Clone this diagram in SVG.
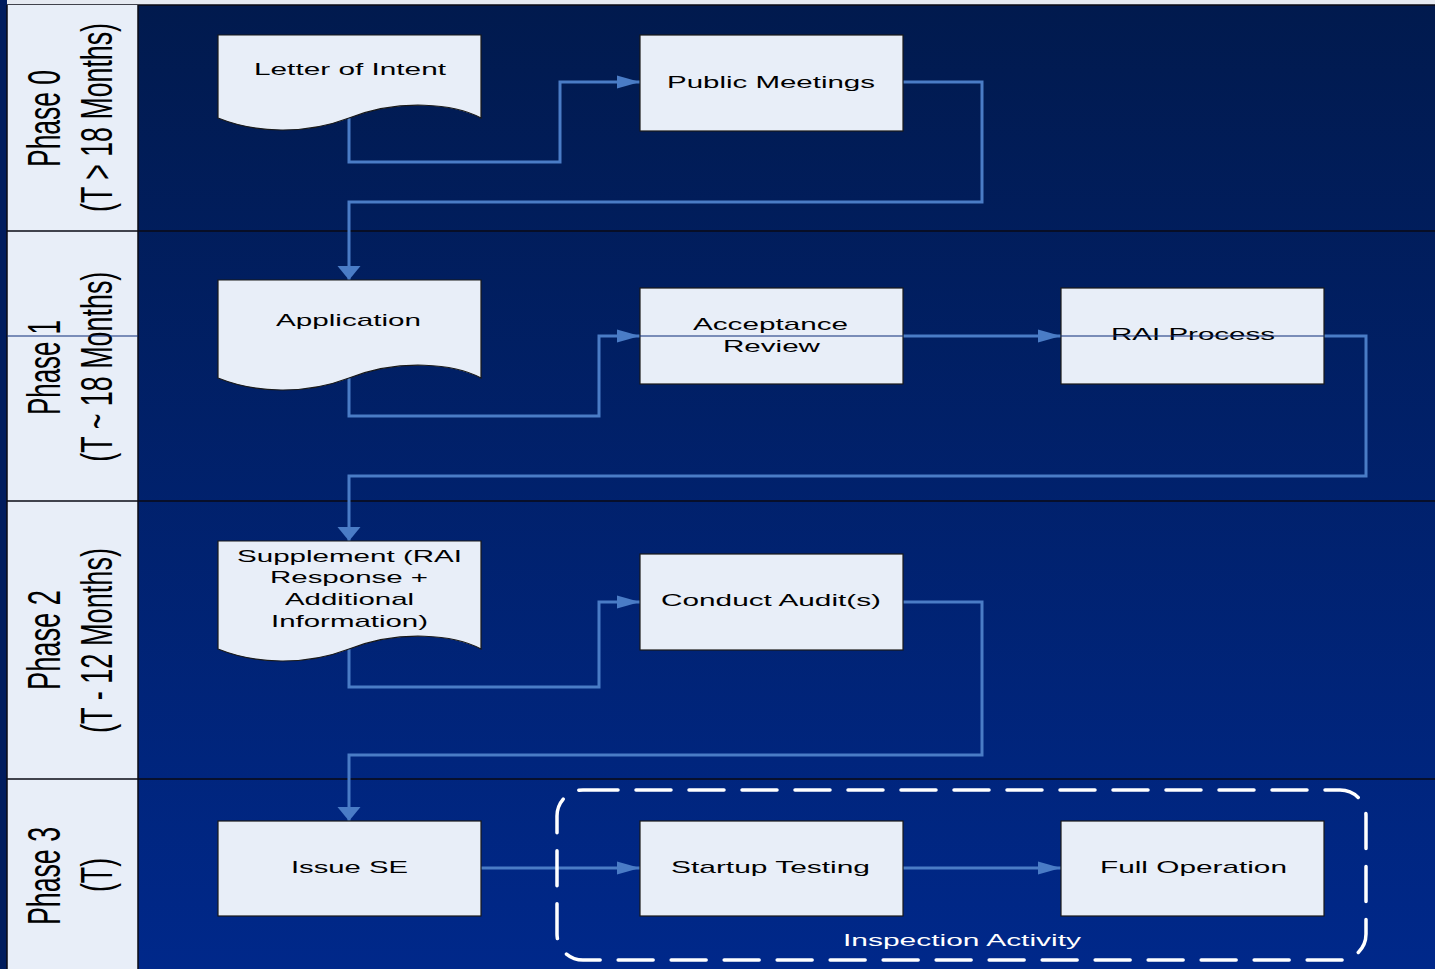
<svg xmlns="http://www.w3.org/2000/svg" width="1435" height="969" viewBox="0 0 1435 969">
<style>
.node{fill:#E8EEF8;stroke:#1a1a1a;stroke-width:1.2}
.t{font-family:"Liberation Sans",Arial,sans-serif;font-size:17px;fill:#000;text-anchor:middle}
.lbl{font-family:"Liberation Sans",Arial,sans-serif;fill:#000;text-anchor:middle}
.conn{fill:none;stroke:#4A7CC6;stroke-width:3}
.div{stroke:#0a0a14;stroke-width:1.5}
</style>
<defs>
<linearGradient id="bg" x1="0" y1="5" x2="0" y2="969" gradientUnits="userSpaceOnUse">
<stop offset="0" stop-color="#011A4E"/>
<stop offset="1" stop-color="#00288A"/>
</linearGradient>
<marker id="ah" markerUnits="userSpaceOnUse" markerWidth="24" markerHeight="14" refX="23" refY="6.5" orient="auto" overflow="visible">
<path d="M0,0 L23,6.5 L0,13 Z" fill="#4A7CC6"/>
</marker>
<marker id="av" markerUnits="userSpaceOnUse" markerWidth="15" markerHeight="24" refX="14" refY="11.5" orient="auto" overflow="visible">
<path d="M0,0 L14,11.5 L0,23 Z" fill="#4A7CC6"/>
</marker>
</defs>

<!-- background -->
<rect x="0" y="0" width="1435" height="969" fill="url(#bg)"/>
<rect x="0" y="0" width="1435" height="5" fill="#E6EAF2"/>
<line x1="0" y1="5" x2="1435" y2="5" class="div"/>
<rect x="0" y="0" width="7" height="969" fill="#001C5E"/>

<!-- lanes -->
<g id="lanes">
<rect x="7" y="5" width="131" height="964" fill="#E8EEF8"/>
<line x1="7" y1="5" x2="7" y2="969" class="div"/>
<line x1="138" y1="5" x2="138" y2="969" class="div"/>
<line x1="7" y1="231" x2="1435" y2="231" class="div"/>
<line x1="7" y1="501" x2="1435" y2="501" class="div"/>
<line x1="7" y1="779" x2="1435" y2="779" class="div"/>
</g>
<g id="lane-phase0">
<text class="lbl" font-size="47" transform="translate(60,118.5) rotate(-90)" textLength="97" lengthAdjust="spacingAndGlyphs">Phase 0</text>
<text class="lbl" font-size="44" transform="translate(112,117.5) rotate(-90)" textLength="189" lengthAdjust="spacingAndGlyphs">(T &gt; 18 Months)</text>
</g>
<g id="lane-phase1">
<text class="lbl" font-size="47" transform="translate(60,367.5) rotate(-90)" textLength="95" lengthAdjust="spacingAndGlyphs">Phase 1</text>
<text class="lbl" font-size="44" transform="translate(112,366.7) rotate(-90)" textLength="190" lengthAdjust="spacingAndGlyphs">(T ~ 18 Months)</text>
</g>
<g id="lane-phase2">
<text class="lbl" font-size="47" transform="translate(60,640) rotate(-90)" textLength="100" lengthAdjust="spacingAndGlyphs">Phase 2</text>
<text class="lbl" font-size="44" transform="translate(112,640.5) rotate(-90)" textLength="185" lengthAdjust="spacingAndGlyphs">(T - 12 Months)</text>
</g>
<g id="lane-phase3">
<text class="lbl" font-size="47" transform="translate(60,876) rotate(-90)" textLength="98" lengthAdjust="spacingAndGlyphs">Phase 3</text>
<text class="lbl" font-size="44" transform="translate(112,875) rotate(-90)" textLength="34" lengthAdjust="spacingAndGlyphs">(T)</text>
</g>

<!-- connectors -->
<g id="connectors">
<path class="conn" d="M349,118 V162 H560 V82 H640" marker-end="url(#ah)"/>
<path class="conn" d="M903,82 H982 V202 H349 V280" marker-end="url(#av)"/>
<path class="conn" d="M349,378 V416 H599 V336 H640" marker-end="url(#ah)"/>
<path class="conn" d="M903,336 H1061" marker-end="url(#ah)"/>
<path class="conn" d="M1324,336 H1366 V476 H349 V541" marker-end="url(#av)"/>
<path class="conn" d="M349,649 V687 H599 V602 H640" marker-end="url(#ah)"/>
<path class="conn" d="M903,602 H982 V755 H349 V821" marker-end="url(#av)"/>
<path class="conn" d="M481,868 H640" marker-end="url(#ah)"/>
<path class="conn" d="M903,868 H1061" marker-end="url(#ah)"/>
</g>

<!-- group boundary -->
<g id="inspection-activity">
<rect x="557" y="790" width="809" height="170" rx="26" ry="26" fill="none" stroke="#FFFFFF" stroke-width="3.5" stroke-dasharray="35,18" stroke-linecap="round"/>
<text class="t" x="962" y="946" fill="#FFFFFF" style="fill:#FFFFFF" textLength="238" lengthAdjust="spacingAndGlyphs">Inspection Activity</text>
</g>

<!-- nodes -->
<g id="letter-of-intent">
<path class="node" d="M218,35 H481 V118 C455,104 400,98 349,118 C305,135 255,133 218,118 Z"/>
<text class="t" x="350" y="75" textLength="192" lengthAdjust="spacingAndGlyphs">Letter of Intent</text>
</g>
<g id="public-meetings">
<rect class="node" x="640" y="35" width="263" height="96"/>
<text class="t" x="771" y="88" textLength="208" lengthAdjust="spacingAndGlyphs">Public Meetings</text>
</g>
<g id="application">
<path class="node" d="M218,280 H481 V378 C455,364 400,358 349,378 C305,395 255,393 218,378 Z"/>
<text class="t" x="348.5" y="326" textLength="145" lengthAdjust="spacingAndGlyphs">Application</text>
</g>
<g id="acceptance-review">
<rect class="node" x="640" y="288" width="263" height="96"/>
<text class="t" x="770.5" y="330" textLength="155" lengthAdjust="spacingAndGlyphs">Acceptance</text>
<text class="t" x="771.5" y="352" textLength="97" lengthAdjust="spacingAndGlyphs">Review</text>
</g>
<g id="rai-process">
<rect class="node" x="1061" y="288" width="263" height="96"/>
<text class="t" x="1193" y="340" textLength="164" lengthAdjust="spacingAndGlyphs">RAI Process</text>
</g>
<g id="supplement">
<path class="node" d="M218,541 H481 V649 C455,635 400,629 349,649 C305,666 255,664 218,649 Z"/>
<text class="t" x="349.5" y="561.5" textLength="225" lengthAdjust="spacingAndGlyphs">Supplement (RAI</text>
<text class="t" x="349" y="583" textLength="158" lengthAdjust="spacingAndGlyphs">Response +</text>
<text class="t" x="349.5" y="605" textLength="129" lengthAdjust="spacingAndGlyphs">Additional</text>
<text class="t" x="349.5" y="626.5" textLength="157" lengthAdjust="spacingAndGlyphs">Information)</text>
</g>
<g id="conduct-audits">
<rect class="node" x="640" y="554" width="263" height="96"/>
<text class="t" x="771" y="606" textLength="220" lengthAdjust="spacingAndGlyphs">Conduct Audit(s)</text>
</g>
<g id="issue-se">
<rect class="node" x="218" y="821" width="263" height="95"/>
<text class="t" x="349.5" y="873" textLength="117" lengthAdjust="spacingAndGlyphs">Issue SE</text>
</g>
<g id="startup-testing">
<rect class="node" x="640" y="821" width="263" height="95"/>
<text class="t" x="770.5" y="873" textLength="199" lengthAdjust="spacingAndGlyphs">Startup Testing</text>
</g>
<g id="full-operation">
<rect class="node" x="1061" y="821" width="263" height="95"/>
<text class="t" x="1193.5" y="873" textLength="187" lengthAdjust="spacingAndGlyphs">Full Operation</text>
</g>

<!-- thin horizontal rule crossing phase 1 -->
<line x1="7" y1="336" x2="138" y2="336" stroke="#0B2A78" stroke-width="1.2"/>
<line x1="640" y1="336" x2="903" y2="336" stroke="#0B2A78" stroke-width="1.2"/>
<line x1="1061" y1="336" x2="1324" y2="336" stroke="#0B2A78" stroke-width="1.2"/>
</svg>
